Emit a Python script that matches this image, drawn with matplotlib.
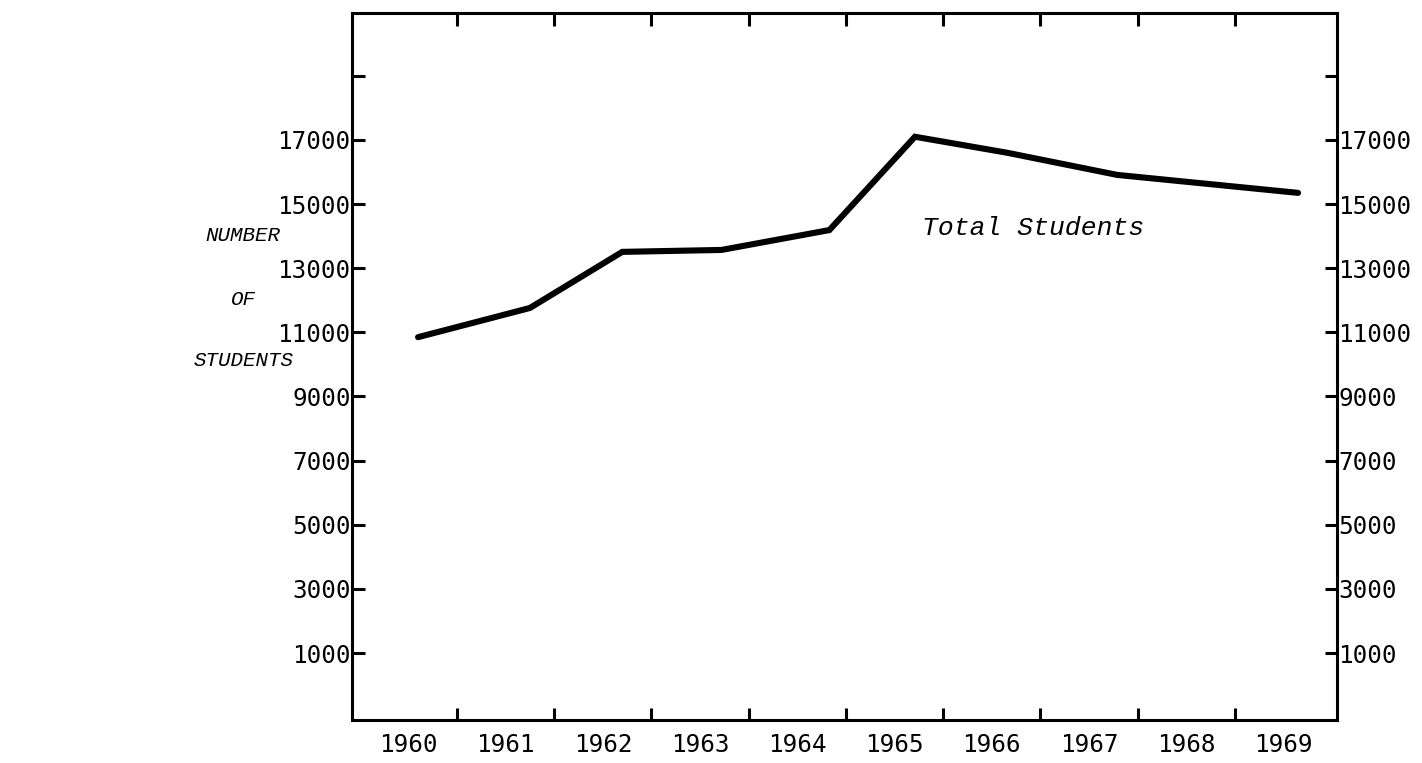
import matplotlib
matplotlib.use("Agg")
import matplotlib.pyplot as plt

# positions (fractional years) and student totals
x_pos = [1960.10, 1961.25, 1962.20, 1963.22, 1964.33, 1965.21, 1966.16, 1967.29, 1969.15]
students = [10850, 11760, 13510, 13570, 14190, 17100, 16600, 15910, 15350]

years = list(range(1960, 1970))
y_ticks = list(range(1000, 20000, 2000))
y_labels = [str(v) if v <= 17000 else "" for v in y_ticks]

MONO = "DejaVu Sans Mono"
TYPE = "Liberation Mono"

fig = plt.figure(figsize=(14.22, 7.63), dpi=100)
ax = fig.add_axes([0.2475, 0.0563, 0.6927, 0.9267])

ax.plot(x_pos, students, color="black", linewidth=4.4,
        solid_capstyle="round", solid_joinstyle="miter")

ax.set_xlim(1959.42, 1969.55)
ax.set_ylim(-1090, 20960)

# year labels centred in each slot, ticks on the boundaries
ax.set_xticks(years)
ax.set_xticklabels([str(y) for y in years], fontfamily=MONO, fontsize=17.5)
ax.set_xticks([y + 0.5 for y in years[:-1]], minor=True)
ax.tick_params(axis="x", which="major", length=0, pad=9)
ax.tick_params(axis="x", which="minor", direction="in", length=9, width=2.2,
               top=True, bottom=True)

ax.set_yticks(y_ticks)
ax.set_yticklabels(y_labels, fontfamily=MONO, fontsize=17.5)
ax.tick_params(axis="y", which="major", direction="in", length=9, width=2.2,
               left=True, right=True, labelleft=True, labelright=True, pad=1)

for sp in ax.spines.values():
    sp.set_linewidth(2.2)

ax.text(0.579, 0.696, "Total Students", transform=ax.transAxes,
        fontfamily=TYPE, fontstyle="italic", fontsize=19,
        ha="left", va="center")

for txt, yy in [("NUMBER", 0.692), ("OF", 0.607), ("STUDENTS", 0.528)]:
    fig.text(0.171, yy, txt, fontfamily=TYPE, fontstyle="italic",
             fontsize=15, ha="center", va="center")

fig.savefig("out.png", dpi=100)
